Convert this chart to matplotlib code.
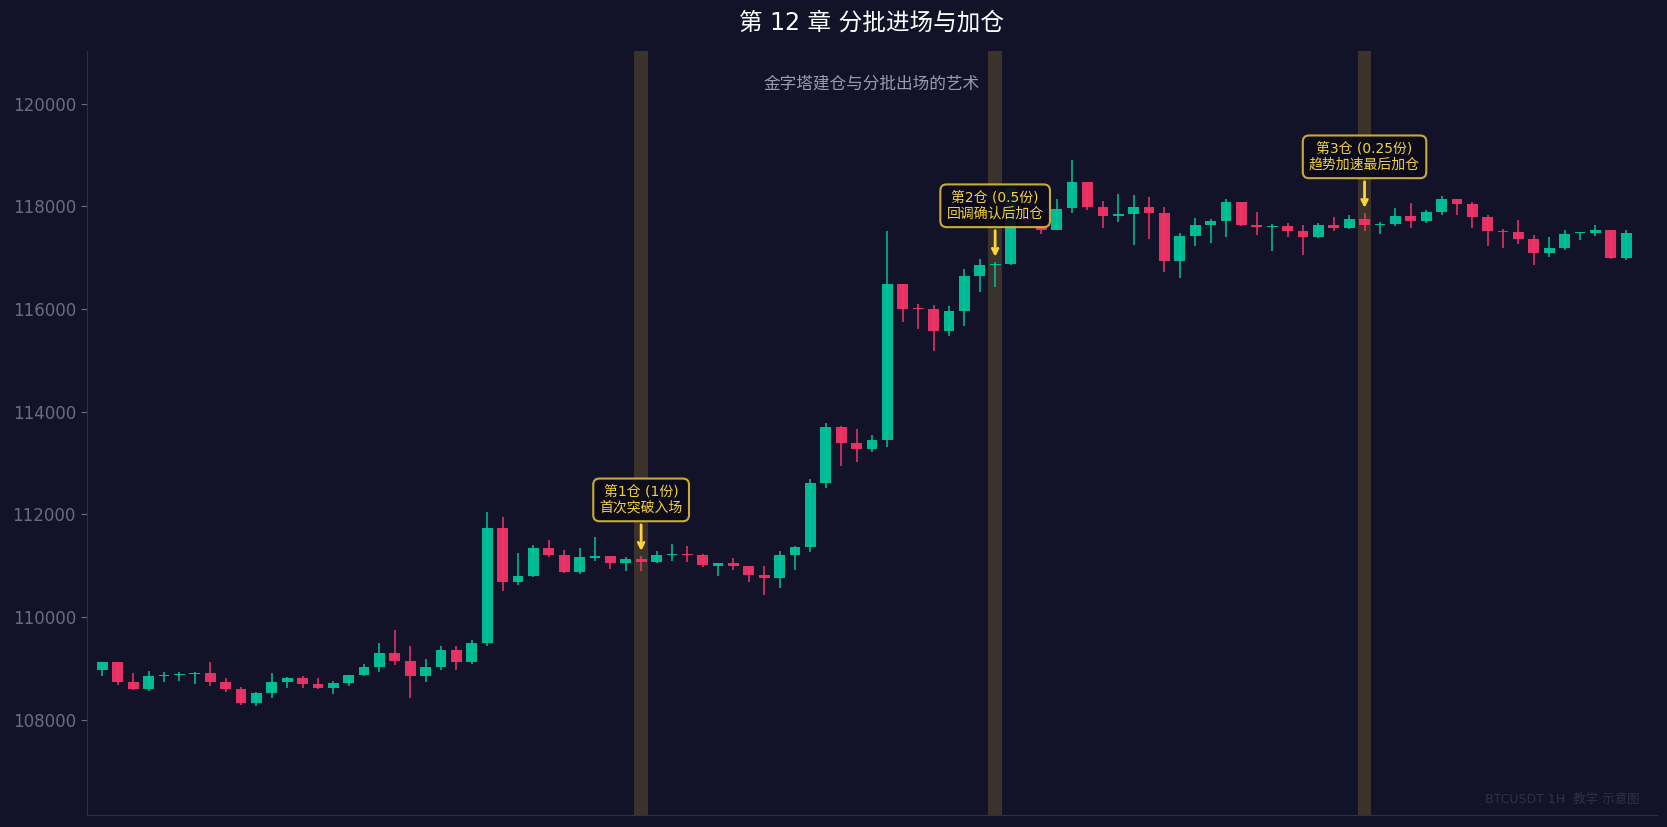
import numpy as np
import matplotlib
matplotlib.use('Agg')
import matplotlib.pyplot as plt

plt.rcParams['font.family'] = ['DejaVu Sans', 'Noto Sans CJK SC']

# BTCUSDT 1H candles
opens = [108977, 109126, 108737, 108600, 108860, 108880, 108900, 108912, 108737, 108600,
         108328, 108522, 108737, 108815, 108698, 108620, 108717, 108873, 109029, 109301,
         109145, 108853, 109029, 109359, 109126, 109496, 111734, 110689, 110799, 111344,
         111208, 110877, 111160, 111189, 111052, 111130, 111072, 111208, 111215, 111208,
         110990, 111052, 110994, 110819, 110760, 111208, 111364, 112609, 113699, 113387,
         113277, 113446, 116482, 116015, 115995, 115573, 115956, 116637, 116858, 116871,
         117800, 117640, 117540, 117967, 118466, 117980, 117805, 117844, 117980, 117863,
         116929, 117415, 117629, 117707, 118077, 117629, 117600, 117610, 117513, 117396,
         117629, 117571, 117746, 117636, 117649, 117805, 117707, 117883, 118136, 118038,
         117785, 117520, 117493, 117357, 117085, 117182, 117474, 117474, 117532, 116987]
highs = [109126, 109126, 108912, 108951, 108931, 108931, 108931, 109126, 108815, 108639,
         108542, 108912, 108834, 108853, 108815, 108756, 108873, 109087, 109496, 109749,
         109437, 109184, 109437, 109437, 109554, 112045, 111948, 111247, 111396, 111500,
         111305, 111344, 111558, 111189, 111169, 111182, 111286, 111422, 111383, 111228,
         111052, 111150, 110994, 110994, 111286, 111383, 112687, 113776, 113718, 113660,
         113543, 117513, 116482, 116092, 116073, 116053, 116774, 116968, 116910, 118400,
         118300, 117700, 118135, 118894, 118466, 118096, 118233, 118213, 118174, 117980,
         117474, 117766, 117746, 118135, 118077, 117882, 117649, 117668, 117629, 117668,
         117785, 117824, 117863, 117688, 117960, 118058, 117921, 118194, 118136, 118077,
         117824, 117552, 117727, 117435, 117396, 117532, 117493, 117630, 117532, 117532]
lows = [108860, 108685, 108581, 108561, 108737, 108756, 108698, 108659, 108542, 108289,
        108270, 108425, 108620, 108620, 108600, 108503, 108659, 108853, 108931, 109068,
        108425, 108737, 108970, 108970, 109087, 109437, 110514, 110631, 110786, 111169,
        110864, 110845, 111091, 110936, 110897, 110897, 111052, 111091, 111072, 110974,
        110799, 110916, 110682, 110429, 110566, 110916, 111266, 112512, 112946, 113024,
        113219, 113316, 115749, 115612, 115184, 115476, 115671, 116332, 116430, 116850,
        117600, 117455, 117530, 117863, 117921, 117571, 117688, 117240, 117357, 116715,
        116598, 117221, 117279, 117396, 117610, 117435, 117124, 117396, 117046, 117376,
        117513, 117552, 117513, 117454, 117610, 117571, 117668, 117824, 117824, 117571,
        117221, 117182, 117260, 116851, 117007, 117143, 117338, 117416, 116968, 116948]
closes = [109126, 108743, 108600, 108853, 108870, 108890, 108905, 108737, 108600, 108328,
          108522, 108737, 108815, 108698, 108620, 108717, 108873, 109029, 109301, 109145,
          108853, 109029, 109359, 109126, 109496, 111734, 110689, 110799, 111344, 111208,
          110877, 111169, 111182, 111052, 111130, 111078, 111208, 111215, 111208, 111013,
          111052, 110994, 110819, 110760, 111208, 111364, 112609, 113699, 113394, 113277,
          113446, 116482, 116002, 116005, 115573, 115956, 116637, 116851, 116871, 118350,
          117650, 117540, 117950, 118466, 117986, 117811, 117844, 117980, 117869, 116929,
          117415, 117629, 117707, 118077, 117629, 117590, 117610, 117513, 117396, 117629,
          117571, 117746, 117630, 117646, 117805, 117707, 117883, 118136, 118038, 117785,
          117513, 117500, 117357, 117085, 117182, 117454, 117487, 117532, 116987, 117474]

entry_idx = [35, 58, 82]
entry_labels = ['第1仓 (1份)\n首次突破入场',
                '第2仓 (0.5份)\n回调确认后加仓',
                '第3仓 (0.25份)\n趋势加速最后加仓']

bg = '#121228'
up_c = '#00c49c'
dn_c = '#f23468'
gold = '#f0c93a'

o = np.array(opens)
h = np.array(highs)
l = np.array(lows)
c = np.array(closes)
x = np.arange(len(o))

fig = plt.figure(figsize=(16.67, 8.27), dpi=100, facecolor=bg)
ax = fig.add_axes([0.0522, 0.0145, 0.9418, 0.9235])
ax.set_facecolor(bg)

# entry highlight bands
for i in entry_idx:
    ax.axvspan(i - 0.45, i + 0.45, color=gold, alpha=0.18, lw=0, zorder=1)

colors = np.where(c >= o, up_c, dn_c)
ax.vlines(x, l, h, colors=colors, linewidth=1.1, zorder=2)
body = np.maximum(np.abs(c - o), 20)
ax.bar(x, body, bottom=np.minimum(o, c), width=0.7, color=colors,
       alpha=0.95, linewidth=0, zorder=3)

for i, lab in zip(entry_idx, entry_labels):
    ax.annotate(lab, xy=(i, h[i] + 50), xytext=(i, h[i] + 1100),
                ha='center', va='center', fontsize=10, color='#f5d142',
                bbox=dict(boxstyle='round,pad=0.45', fc='#0b0b1a', ec='#d9b838',
                          lw=1.5, alpha=0.92),
                arrowprops=dict(arrowstyle='->', color='#ffd43b', lw=2),
                zorder=5)

rng = h.max() - l.min()
ax.set_xlim(-1, len(o) + 1)
ax.set_ylim(l.min() - 0.2 * rng, h.max() + 0.2 * rng)
ax.set_xticks([])
ax.tick_params(axis='y', colors='#6b6b88', labelsize=12, length=4.5)
for s in ['top', 'right']:
    ax.spines[s].set_visible(False)
for s in ['left', 'bottom']:
    ax.spines[s].set_color('#2e2e4a')

fig.text(0.523, 1 - 23 / 827, '第 12 章 分批进场与加仓', ha='center', va='center',
         fontsize=17, color='white')
ax.text(0.5, 0.958, '金字塔建仓与分批出场的艺术', transform=ax.transAxes,
        ha='center', va='center', fontsize=12, color='#9a9ab4')
ax.text(0.989, 0.02, 'BTCUSDT 1H  教学·示意图', transform=ax.transAxes,
        ha='right', va='center', fontsize=9, color='#30304a')

fig.savefig('out.png', dpi=100, facecolor=bg)
